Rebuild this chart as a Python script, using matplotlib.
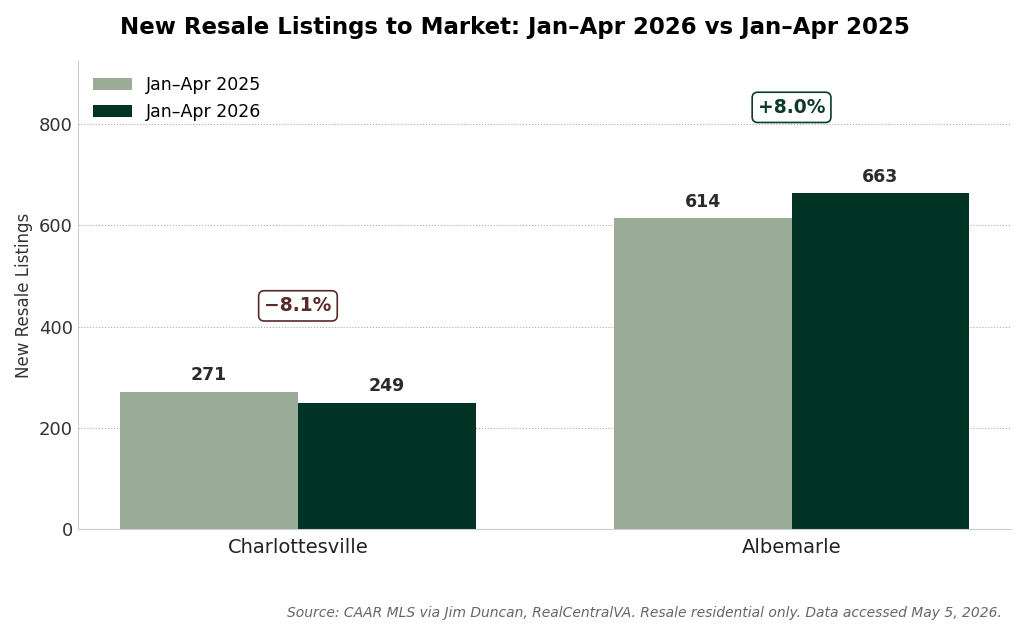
import matplotlib
matplotlib.use("Agg")
import matplotlib.pyplot as plt
import numpy as np

# data
regions = ["Charlottesville", "Albemarle"]
listings_2025 = [271, 614]
listings_2026 = [249, 663]
changes = ["\u22128.1%", "+8.0%"]
series_labels = ["Jan\u2013Apr 2025", "Jan\u2013Apr 2026"]

C25 = "#9aab98"
C26 = "#003324"

fig = plt.figure(figsize=(10.24, 6.33), dpi=100)
ax = fig.add_axes([0.076, 0.164, 0.911, 0.74])

x = np.arange(len(regions))
w = 0.36
b1 = ax.bar(x - w / 2, listings_2025, w, color=C25, label=series_labels[0], zorder=2)
b2 = ax.bar(x + w / 2, listings_2026, w, color=C26, label=series_labels[1], zorder=2)

for bars in (b1, b2):
    for rect in bars:
        h = rect.get_height()
        ax.text(rect.get_x() + rect.get_width() / 2, h + 15, f"{h:.0f}",
                ha="center", va="bottom", fontsize=12.5, fontweight="bold", color="#2b2b2b")

# change labels above each pair
for i, ch in enumerate(changes):
    top = max(listings_2025[i], listings_2026[i])
    col = "#5a2a2a" if ch.startswith("\u2212") else "#0d3b2a"
    ax.text(x[i], top + 170, ch, ha="center", va="center", fontsize=13.5,
            fontweight="bold", color=col,
            bbox=dict(boxstyle="round,pad=0.3", fc="white", ec=col, lw=1.2))

ax.set_xlim(-0.446, 1.444)
ax.set_ylim(0, 925)
ax.set_yticks([0, 200, 400, 600, 800])
ax.set_xticks(x)
ax.set_xticklabels(regions, fontsize=14)
ax.tick_params(axis="y", labelsize=13, length=0, colors="#333333")
ax.tick_params(axis="x", length=0, colors="#222222", pad=6)
ax.set_ylabel("New Resale Listings", fontsize=12, color="#333333")
ax.yaxis.grid(True, linestyle=":", color="#aaaaaa", lw=0.8, zorder=0)
for s in ("top", "right"):
    ax.spines[s].set_visible(False)
for s in ("left", "bottom"):
    ax.spines[s].set_color("#cccccc")

ax.legend(loc="upper left", frameon=False, fontsize=12.5, handlelength=2.2)

fig.suptitle("New Resale Listings to Market: Jan\u2013Apr 2026 vs Jan\u2013Apr 2025",
             x=0.503, y=0.975, fontsize=16.5, fontweight="bold")
fig.text(0.978, 0.025, "Source: CAAR MLS via Jim Duncan, RealCentralVA. Resale residential only. Data accessed May 5, 2026.",
         ha="right", fontsize=10, style="italic", color="#666666")

fig.savefig("out.png", dpi=100, facecolor="white")
